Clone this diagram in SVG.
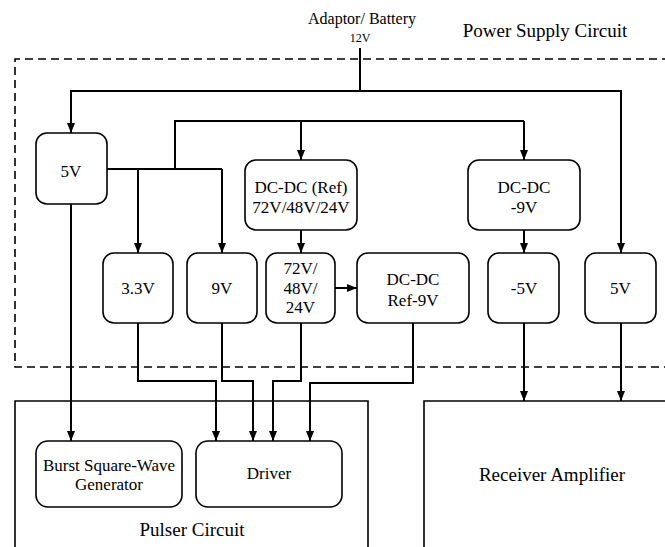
<svg xmlns="http://www.w3.org/2000/svg" width="665" height="547" viewBox="0 0 665 547" font-family="'Liberation Serif', 'Times New Roman', serif">
<style>
.box{fill:#fff;stroke:#000;stroke-width:1.6}
.cont{fill:none;stroke:#000;stroke-width:1.6}
.dash{fill:none;stroke:#000;stroke-width:1.6;stroke-dasharray:8 5}
.wire{fill:none;stroke:#000;stroke-width:2}
.arr{fill:none;stroke:#000;stroke-width:2;marker-end:url(#ah)}
text{font-family:"Liberation Serif","Times New Roman",serif;fill:#000;text-anchor:middle}
.t{font-size:17px}
.big{font-size:19px}
</style>
<defs>
<marker id="ah" viewBox="0 0 10 8" refX="10" refY="4" markerWidth="10" markerHeight="8" markerUnits="userSpaceOnUse" orient="auto">
<path d="M0,0 L10,4 L0,8 z" fill="#000"/>
</marker>
</defs>
<rect width="665" height="547" fill="#fff"/>

<g id="power-supply-circuit">
<path class="dash" d="M670 59 H15 V367 H670"/>
<text class="big" x="545" y="37">Power Supply Circuit</text>
</g>
<g id="source">
<text x="362" y="24" style="font-size:16px">Adaptor/ Battery</text>
<text x="360" y="42" style="font-size:12px">12V</text>
</g>
<g id="pulser-circuit">
<path class="cont" d="M15 560 V401 H368 V560"/>
<text class="big" x="192" y="536">Pulser Circuit</text>
</g>
<g id="receiver-amplifier">
<path class="cont" d="M424 560 V401 H680"/>
<text class="big" x="552" y="481">Receiver Amplifier</text>
</g>

<g id="connectors">
<path class="wire" d="M360 48 V91"/>
<path class="arr" d="M360 91 H71 V133"/>
<path class="arr" d="M360 91 H621 V253"/>
<path class="wire" d="M175 169 V121 H524"/>
<path class="arr" d="M301 121 V160"/>
<path class="arr" d="M524 121 V160"/>
<path class="wire" d="M107 169 H222"/>
<path class="arr" d="M138 169 V253"/>
<path class="arr" d="M222 169 V253"/>
<path class="arr" d="M301 230 V253"/>
<path class="arr" d="M524 230 V253"/>
<path class="arr" d="M335 288 H357"/>
<path class="arr" d="M524 323 V401"/>
<path class="arr" d="M621 323 V401"/>
<path class="arr" d="M71 204 V441"/>
<path class="arr" d="M138 323 V381 H216 V441"/>
<path class="arr" d="M222 323 V381 H253 V441"/>
<path class="arr" d="M301 323 V381 H273 V441"/>
<path class="arr" d="M413 323 V383 H310 V441"/>
</g>

<g id="n-5v-left">
<rect class="box" x="36" y="133" width="71" height="71" rx="11"/>
<text class="t" x="71" y="177">5V</text>
</g>
<g id="n-dcdc-ref">
<rect class="box" x="245" y="160" width="112" height="70" rx="11"/>
<text class="t" x="301" y="193">DC-DC (Ref)</text>
<text class="t" x="301" y="213">72V/48V/24V</text>
</g>
<g id="n-dcdc-9v">
<rect class="box" x="468" y="160" width="112" height="70" rx="11"/>
<text class="t" x="524" y="193">DC-DC</text>
<text class="t" x="524" y="213">-9V</text>
</g>
<g id="n-3v3">
<rect class="box" x="103" y="253" width="70" height="70" rx="11"/>
<text class="t" x="138" y="294">3.3V</text>
</g>
<g id="n-9v">
<rect class="box" x="187" y="253" width="70" height="70" rx="11"/>
<text class="t" x="222" y="294">9V</text>
</g>
<g id="n-72v">
<rect class="box" x="266" y="253" width="69" height="70" rx="11"/>
<text class="t" x="300.5" y="274">72V/</text>
<text class="t" x="300.5" y="294">48V/</text>
<text class="t" x="300.5" y="313">24V</text>
</g>
<g id="n-dcdc-ref-9v">
<rect class="box" x="357" y="253" width="112" height="70" rx="11"/>
<text class="t" x="413" y="285">DC-DC</text>
<text class="t" x="413" y="306">Ref-9V</text>
</g>
<g id="n-minus5v">
<rect class="box" x="488" y="253" width="71" height="70" rx="11"/>
<text class="t" x="524" y="294">-5V</text>
</g>
<g id="n-5v-right">
<rect class="box" x="585" y="253" width="71" height="70" rx="11"/>
<text class="t" x="620.5" y="294">5V</text>
</g>
<g id="n-burst">
<rect class="box" x="36" y="441" width="146" height="66" rx="12"/>
<text class="t" x="109" y="471">Burst Square-Wave</text>
<text class="t" x="109" y="490">Generator</text>
</g>
<g id="n-driver">
<rect class="box" x="196" y="441" width="146" height="66" rx="12"/>
<text class="t" x="269" y="479">Driver</text>
</g>
</svg>
